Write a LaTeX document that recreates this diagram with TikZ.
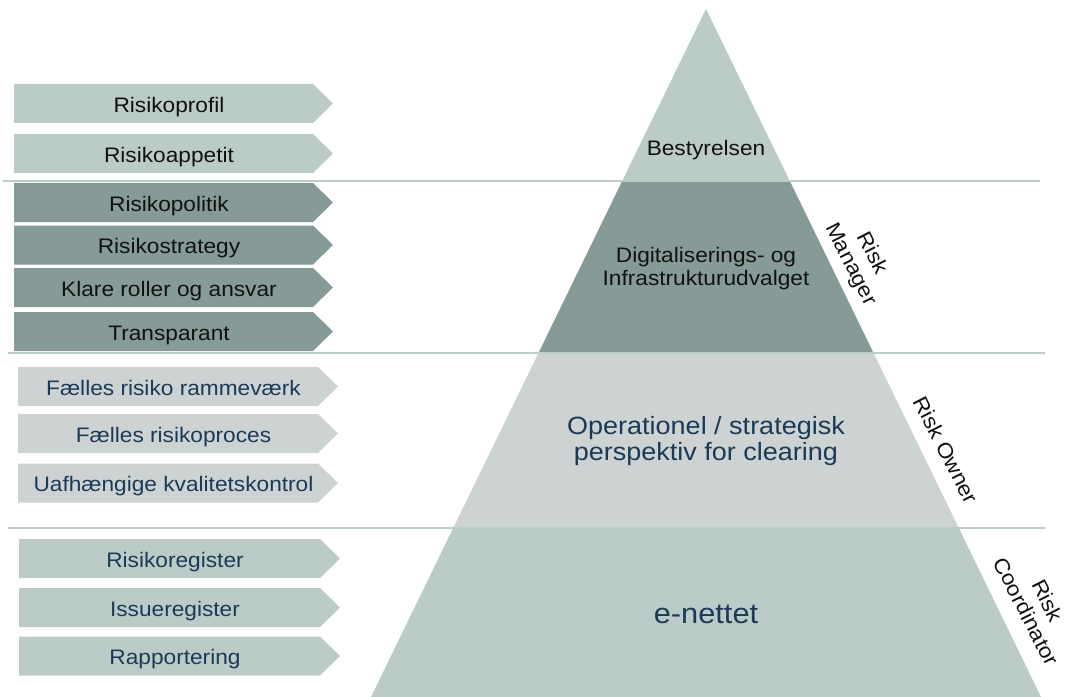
\documentclass[tikz,border=0pt]{standalone}
\usepackage{fontspec}
\setmainfont{Liberation Sans}[FakeStretch=1.08]
\definecolor{sage}{HTML}{BBCCC8}
\definecolor{slate}{HTML}{869B97}
\definecolor{mist}{HTML}{CDD3D3}
\definecolor{navy}{HTML}{1C3A56}
\definecolor{rulecol}{HTML}{BDCEC9}
\definecolor{ink}{HTML}{111111}

% chevron tag: name, fill, left x, tip x, centre y, text, text colour
\newcommand{\chevron}[7]{%
  \fill[#2] (#3,#5-19.5) -- (#4-20,#5-19.5) -- (#4,#5) -- (#4-20,#5+19.5) -- (#3,#5+19.5) -- cycle;
  \node[tagtext, text=#7] (#1) at ({(#3+#4)/2-4.5},#5+8.8) {#6};
}

\begin{document}
\begin{tikzpicture}[x=1bp,y=-1bp,
  tagtext/.style={font=\fontsize{21bp}{25bp}\selectfont, inner sep=0pt, anchor=base},
  leveltext/.style={font=\fontsize{21bp}{23bp}\selectfont, inner sep=0pt, align=center},
  roletext/.style={font=\fontsize{21bp}{24bp}\selectfont, inner sep=0pt, align=center, rotate=-63, text=ink},
  sepline/.style={draw=rulecol, line width=2bp}]
\useasboundingbox (0,0) rectangle (1069,697);

% pyramid outline points
\coordinate (apex) at (706,9);
\coordinate (l1) at (622.4,180.6); \coordinate (r1) at (789.6,180.6);
\coordinate (l2) at (538.6,352.7); \coordinate (r2) at (873.4,352.7);
\coordinate (l3) at (453.2,528);   \coordinate (r3) at (958.8,528);
\coordinate (l4) at (371,697);     \coordinate (r4) at (1041,697);

% pyramid bands
\fill[sage]  (apex) -- (r1) -- (l1) -- cycle;
\fill[slate] (l1) -- (r1) -- (r2) -- (l2) -- cycle;
\fill[mist]  (l2) -- (r2) -- (r3) -- (l3) -- cycle;
\fill[sage]  (l3) -- (r3) -- (r4) -- (l4) -- cycle;

% horizontal separators
\coordinate (s1a) at (3,180.6); \coordinate (s1b) at (1040,180.6);
\coordinate (s2a) at (8,352.7); \coordinate (s2b) at (1045,352.7);
\coordinate (s3a) at (8,528);   \coordinate (s3b) at (1045,528);
\draw[sepline] (s1a) -- (s1b);
\draw[sepline] (s2a) -- (s2b);
\draw[sepline] (s3a) -- (s3b);

% level labels
\node[leveltext, text=ink, anchor=base] (board) at (706,156) {Bestyrelsen};
\node[leveltext, text=ink] (committee) at (706,268.5) {Digitaliserings- og\\Infrastrukturudvalget};
\node[leveltext, text=navy, font=\fontsize{25bp}{25.5bp}\selectfont] (clearing) at (706,441) {Operationel / strategisk\\perspektiv for clearing};
\node[leveltext, text=navy, font=\fontsize{28.5bp}{30bp}\selectfont, anchor=base] (enet) at (706,623) {e-nettet};

% role labels along the right edge
\node[roletext] (manager) at (861,259) {Risk\\Manager};
\node[roletext] (owner) at (946,450) {Risk Owner};
\node[roletext] (coord) at (1037,606) {Risk\\Coordinator};

% tags
\chevron{profile}{sage}{14}{333}{103.5}{Risikoprofil}{ink}
\chevron{appetite}{sage}{14}{333}{153.5}{Risikoappetit}{ink}
\chevron{policy}{slate}{14}{333}{202.5}{Risikopolitik}{ink}
\chevron{strategy}{slate}{14}{333}{245}{Risikostrategy}{ink}
\chevron{roles}{slate}{14}{333}{287.5}{Klare roller og ansvar}{ink}
\chevron{transp}{slate}{14}{333}{331.5}{Transparant}{ink}
\chevron{frame}{mist}{18}{338}{386.5}{Fælles risiko rammeværk}{navy}
\chevron{process}{mist}{18}{338}{433.5}{Fælles risikoproces}{navy}
\chevron{quality}{mist}{18}{338}{483}{Uafhængige kvalitetskontrol}{navy}
\chevron{register}{sage}{19}{340}{558.5}{Risikoregister}{navy}
\chevron{issues}{sage}{19}{340}{607.5}{Issueregister}{navy}
\chevron{report}{sage}{19}{340}{656}{Rapportering}{navy}
\end{tikzpicture}
\end{document}
